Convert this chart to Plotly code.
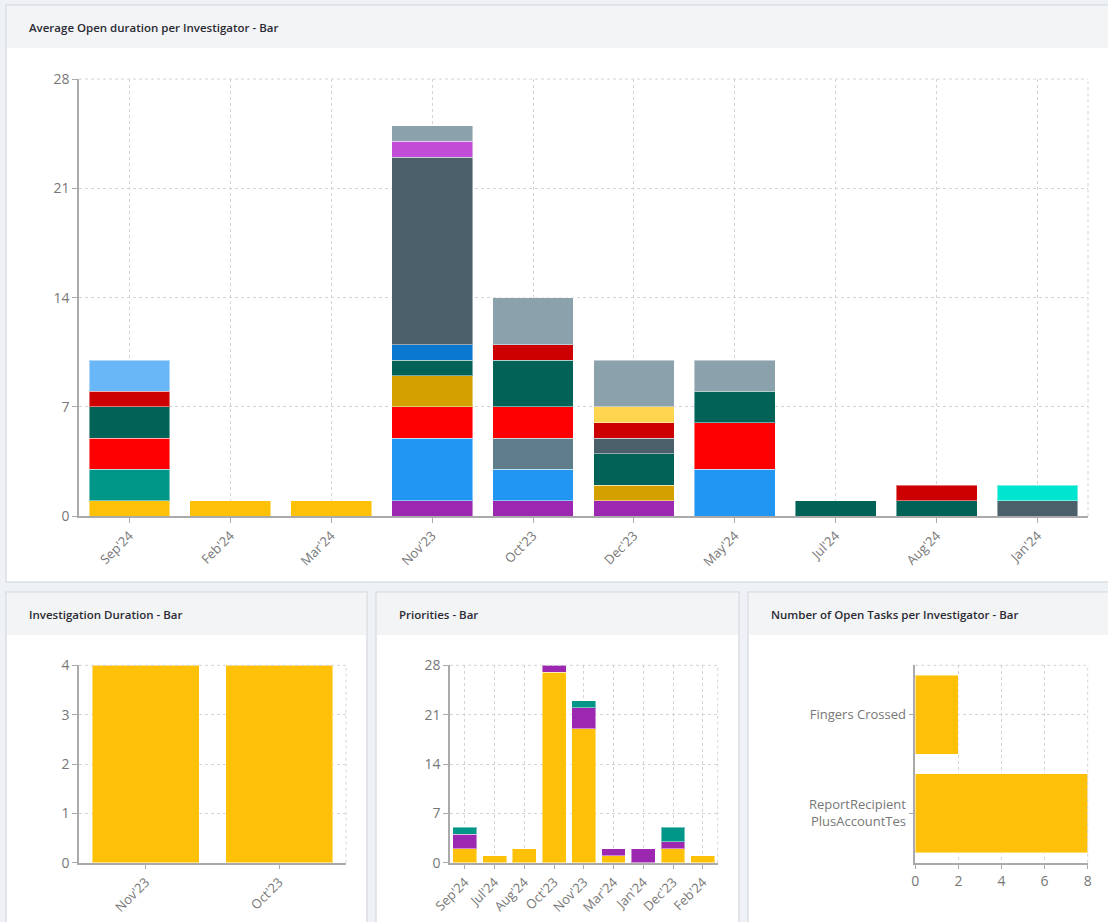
import plotly.graph_objects as go

W, H = 1108, 922

# ---------------- data ----------------
months_main = ["Sep'24", "Feb'24", "Mar'24", "Nov'23", "Oct'23", "Dec'23", "May'24", "Jul'24", "Aug'24", "Jan'24"]
N = None
inv_amber      = [1, 1, 1, N, N, N, N, N, N, N]
inv_purple     = [N, N, N, 1, 1, 1, N, N, N, N]
inv_teal       = [2, N, N, N, N, N, N, N, N, N]
inv_blue       = [N, N, N, 4, 2, N, 3, N, N, N]
inv_bluegrey   = [N, N, N, N, 2, N, N, N, N, N]
inv_red        = [2, N, N, 2, 2, N, 3, N, N, N]
inv_gold       = [N, N, N, 2, N, 1, N, N, N, N]
inv_darkgreen  = [2, N, N, 1, 3, 2, 2, 1, 1, N]
inv_blue2      = [N, N, N, 1, N, N, N, N, N, N]
inv_slate      = [N, N, N, 12, N, 1, N, N, N, 1]
inv_crimson    = [1, N, N, N, 1, 1, N, N, 1, N]
inv_turquoise  = [N, N, N, N, N, N, N, N, N, 1]
inv_magenta    = [N, N, N, 1, N, N, N, N, N, N]
inv_lightyel   = [N, N, N, N, N, 1, N, N, N, N]
inv_lightblue  = [2, N, N, N, N, N, N, N, N, N]
inv_grey       = [N, N, N, 1, 3, 3, 2, N, N, N]

main_series = [
    ("Investigator 1", inv_amber, "#ffc107"),
    ("Investigator 2", inv_purple, "#9c27b0"),
    ("Investigator 3", inv_teal, "#009688"),
    ("Investigator 4", inv_blue, "#2196f3"),
    ("Investigator 5", inv_bluegrey, "#607d8b"),
    ("Investigator 6", inv_red, "#ff0000"),
    ("Investigator 7", inv_gold, "#d4a000"),
    ("Investigator 8", inv_darkgreen, "#016358"),
    ("Investigator 9", inv_blue2, "#0b78d0"),
    ("Investigator 10", inv_slate, "#4a5f6a"),
    ("Investigator 11", inv_crimson, "#cc0000"),
    ("Investigator 12", inv_turquoise, "#00e5cf"),
    ("Investigator 13", inv_magenta, "#c14cd6"),
    ("Investigator 14", inv_lightyel, "#ffd54f"),
    ("Investigator 15", inv_lightblue, "#6ab7f8"),
    ("Investigator 16", inv_grey, "#8ba1ac"),
]

dur_months = ["Nov'23", "Oct'23"]
dur_values = [4, 4]

prio_months = ["Sep'24", "Jul'24", "Aug'24", "Oct'23", "Nov'23", "Mar'24", "Jan'24", "Dec'23", "Feb'24"]
prio_low    = [2, 1, 2, 27, 19, 1, N, 2, 1]
prio_medium = [2, N, N, 1, 3, 1, 2, 1, N]
prio_high   = [1, N, N, N, 1, N, N, 2, N]

task_investigators = ["ReportRecipient<br>PlusAccountTes", "Fingers Crossed"]
task_counts = [8, 2]

# ---------------- helpers ----------------
def px(x):
    return x / W

def py(y):
    return 1 - y / H

FONT = "Open Sans, Noto Sans, sans-serif"
TICK_COLOR = "#777777"
AXIS_LINE = "#aaaaaa"
GRID = "#d4d4d4"
BAR_LINE = dict(color="rgba(255,255,255,0.45)", width=1)

fig = go.Figure()

for name, vals, col in main_series:
    fig.add_trace(go.Bar(x=months_main, y=vals, name=name, marker=dict(color=col, line=BAR_LINE),
                         xaxis="x", yaxis="y"))

fig.add_trace(go.Bar(x=dur_months, y=dur_values, name="Duration",
                     marker=dict(color="#ffc107", line=BAR_LINE), xaxis="x2", yaxis="y2"))

for name, vals, col in [("Low", prio_low, "#ffc107"), ("Medium", prio_medium, "#9c27b0"), ("High", prio_high, "#009688")]:
    fig.add_trace(go.Bar(x=prio_months, y=vals, name=name, marker=dict(color=col, line=BAR_LINE),
                         xaxis="x3", yaxis="y3"))

fig.add_trace(go.Bar(x=task_counts, y=task_investigators, orientation="h", name="Open tasks",
                     marker=dict(color="#ffc107", line=BAR_LINE), xaxis="x4", yaxis="y4"))

COMMON = dict(showgrid=True, gridcolor=GRID, griddash="dot", gridwidth=1, showline=True,
              linecolor=AXIS_LINE, linewidth=1.5, ticks="outside", ticklen=5, tickcolor=AXIS_LINE,
              zeroline=False, fixedrange=True, automargin=False)

def cat_x(domain, anchor, size=13):
    return dict(domain=domain, anchor=anchor, type="category", tickangle=-45,
                tickfont=dict(family=FONT, size=size, color=TICK_COLOR), **COMMON)

def val_y(domain, anchor, rng, dtick, size=14):
    return dict(domain=domain, anchor=anchor, range=rng, dtick=dtick,
                tickfont=dict(family=FONT, size=size, color=TICK_COLOR), **COMMON)

top_y = 79
bot_main = 516.3
b_top, b_bot = 665.3, 862.7

main_xd = [px(79), px(1088)]
d2_xd = [px(79), px(346)]
d3_xd = [px(450), px(717.7)]
d4_xd = [px(915.3), px(1087.7)]
main_yd = [py(bot_main), py(top_y)]
bot_yd = [py(b_bot), py(b_top)]

layout_axes = dict(
    xaxis=cat_x(main_xd, "y"),
    yaxis=val_y(main_yd, "x", [0, 28], 7),
    xaxis2=cat_x(d2_xd, "y2"),
    yaxis2=val_y(bot_yd, "x2", [0, 4], 1),
    xaxis3=cat_x(d3_xd, "y3"),
    yaxis3=val_y(bot_yd, "x3", [0, 28], 7),
    xaxis4=dict(domain=d4_xd, anchor="y4", range=[0, 8], dtick=2,
                tickfont=dict(family=FONT, size=14, color=TICK_COLOR), **COMMON),
    yaxis4=dict(domain=bot_yd, anchor="x4", type="category",
                tickfont=dict(family=FONT, size=13, color=TICK_COLOR), **COMMON),
)

shapes = []
panels = [
    (6, 5, 1112, 582),
    (6, 592, 367, 930),
    (376, 592, 739, 930),
    (748, 592, 1112, 930),
]
for x0, y0, x1, y1 in panels:
    shapes.append(dict(type="rect", xref="paper", yref="paper", x0=px(x0), x1=px(x1), y0=py(y1), y1=py(y0),
                       fillcolor="white", line=dict(color="#dadee4", width=1.5), layer="below"))
    shapes.append(dict(type="rect", xref="paper", yref="paper", x0=px(x0 + 1), x1=px(x1 - 1),
                       y0=py(y0 + 43), y1=py(y0 + 1), fillcolor="#f3f4f6", line=dict(width=0), layer="below"))

for xa, ya in [("x", "y"), ("x2", "y2"), ("x3", "y3"), ("x4", "y4")]:
    shapes.append(dict(type="line", xref=f"{xa} domain", yref=f"{ya} domain", x0=1, x1=1, y0=0, y1=1,
                       line=dict(color=GRID, width=1, dash="dot")))
    shapes.append(dict(type="line", xref=f"{xa} domain", yref=f"{ya} domain", x0=0, x1=1, y0=1, y1=1,
                       line=dict(color=GRID, width=1, dash="dot")))

titles = [
    ("Average Open duration per Investigator - Bar", 27, 27),
    ("Investigation Duration - Bar", 27, 614),
    ("Priorities - Bar", 397, 614),
    ("Number of Open Tasks per Investigator - Bar", 769, 614),
]
annotations = [dict(text=t, xref="paper", yref="paper", x=px(x), y=py(y), xanchor="left", yanchor="middle",
                    showarrow=False, font=dict(family=FONT, size=11.5, color="#2b2b33", weight=600))
               for t, x, y in titles]

fig.update_layout(
    width=W, height=H, margin=dict(l=0, r=0, t=0, b=0, autoexpand=False),
    paper_bgcolor="#eef1f5", plot_bgcolor="white",
    barmode="stack", bargap=0.2, showlegend=False,
    font=dict(family=FONT),
    shapes=shapes, annotations=annotations,
    **layout_axes,
)

fig.write_html("out.html", config={"displayModeBar": False},
               post_script="document.body.style.margin='0';document.body.style.overflow='hidden';"
                           "document.documentElement.style.overflow='hidden';")
